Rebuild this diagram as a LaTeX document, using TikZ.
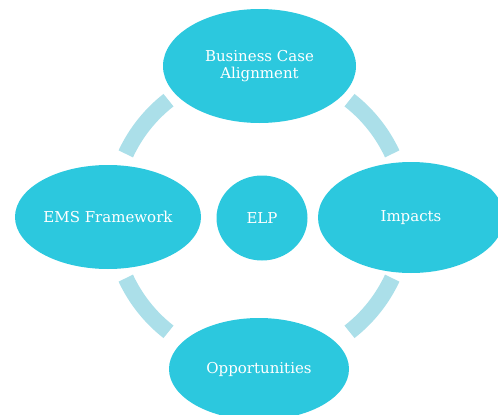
\documentclass[tikz,border=0pt]{standalone}
\usepackage{fontspec}
\setmainfont{DejaVu Serif}
\usetikzlibrary{shapes.geometric}
\definecolor{bubble}{HTML}{2CC8DE}
\definecolor{ring}{HTML}{ABDFE9}
\begin{document}
\begin{tikzpicture}[x=1pt,y=-1pt,
  bubble/.style={ellipse, fill=bubble, draw=none, inner sep=0pt,
    text=white, font=\fontsize{15}{17}\selectfont, align=center},
  ringarc/.style={draw=ring, line width=16pt, line cap=butt}]
\useasboundingbox (0,0) rectangle (498,415);
\coordinate (hub) at (259,216);
% ring segments between the outer bubbles
\foreach \a/\b in {-128/-155, -52/-25, -205/-232, -308/-335}
  \draw[ringarc] (hub) ++(\a:147) arc[start angle=\a, end angle=\b, radius=147];
% bubbles
\node[bubble, minimum width=193pt, minimum height=114pt] (bca) at (259.5,66) {Business Case\\Alignment};
\node[bubble, minimum width=186pt, minimum height=104pt] (ems) at (108,217) {EMS Framework};
\node[bubble, minimum width=186pt, minimum height=111pt] (imp) at (411,217.5) {Impacts};
\node[bubble, minimum width=180pt, minimum height=102pt] (opp) at (259,369) {Opportunities};
\node[bubble, minimum width=91pt, minimum height=85pt] (elp) at (262,218) {ELP};
\end{tikzpicture}
\end{document}
